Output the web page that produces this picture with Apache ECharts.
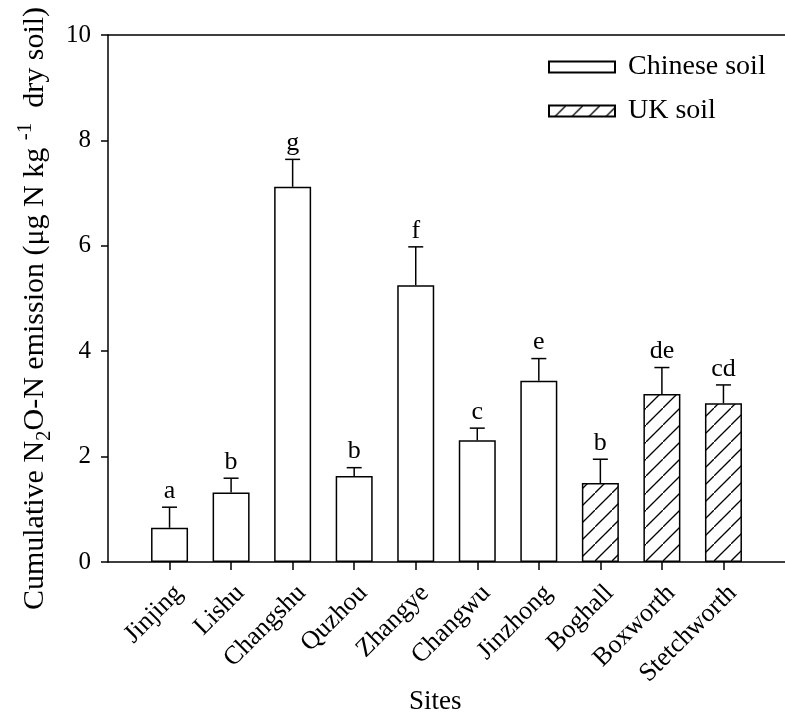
<!DOCTYPE html>
<html lang="en" style="height: 100%">
<head>
  <meta charset="utf-8">
</head>
<body style="height: 100%; margin: 0">
  <div id="container" style="width: 785px; height: 720px"></div>
  <script type="text/javascript" src="https://cdn.jsdelivr.net/npm/echarts@6/dist/echarts.min.js"></script>
  <script type="text/javascript">
    // data
    var sites = ['Jinjing', 'Lishu', 'Changshu', 'Quzhou', 'Zhangye', 'Changwu', 'Jinzhong', 'Boghall', 'Boxworth', 'Stetchworth'];
    var soil = ['Chinese soil', 'Chinese soil', 'Chinese soil', 'Chinese soil', 'Chinese soil', 'Chinese soil', 'Chinese soil', 'UK soil', 'UK soil', 'UK soil'];
    var means = [0.65, 1.32, 7.12, 1.63, 5.25, 2.31, 3.44, 1.50, 3.19, 3.01];
    var errs = [0.39, 0.27, 0.52, 0.16, 0.73, 0.23, 0.42, 0.45, 0.50, 0.35];
    var letters = ['a', 'b', 'g', 'b', 'f', 'c', 'e', 'b', 'de', 'cd'];

    var font = 'Liberation Serif';

    // diagonal hatch tile for UK soil
    var tile = document.createElement('canvas');
    var s = 17;
    tile.width = s;
    tile.height = s;
    var ctx = tile.getContext('2d');
    ctx.strokeStyle = '#000';
    ctx.lineWidth = 1.3;
    ctx.beginPath();
    ctx.moveTo(-2, s + 2);
    ctx.lineTo(s + 2, -2);
    ctx.stroke();

    var dom = document.getElementById('container');
    var myChart = echarts.init(dom, null, { renderer: 'canvas' });

    var positions = sites.map(function (d, i) { return i + 1; });

    function barData(name) {
      return sites.map(function (d, i) {
        return soil[i] === name ? [i + 1, means[i]] : [i + 1, '-'];
      });
    }

    var option = {
      animation: false,
      backgroundColor: '#fff',
      textStyle: { fontFamily: font, color: '#000' },
      grid: { left: 108, top: 35, right: -67, bottom: 158 },
      legend: {
        orient: 'vertical',
        left: 543,
        top: 48,
        icon: 'rect',
        itemWidth: 66,
        itemHeight: 11,
        itemGap: 16,
        textStyle: { fontFamily: font, fontSize: 28, color: '#000', padding: [0, 0, 0, 8] },
        data: ['Chinese soil', 'UK soil']
      },
      graphic: [{
        type: 'text',
        left: 409,
        top: 688,
        style: { text: 'Sites', fontFamily: font, fontSize: 27, fill: '#000' }
      }],
      xAxis: [{
        type: 'value',
        min: 0,
        max: 11,
        splitLine: { show: false },
        axisLine: { lineStyle: { color: '#000', width: 1.5 } },
        axisTick: { customValues: positions, length: 8, lineStyle: { color: '#000', width: 1.5 } },
        axisLabel: {
          customValues: positions,
          rotate: 45,
          margin: 18,
          verticalAlign: 'top',
          fontFamily: font,
          fontSize: 26,
          color: '#000',
          formatter: function (v) { return sites[v - 1]; }
        }
      }, {
        type: 'value',
        position: 'top',
        min: 0,
        max: 11,
        splitLine: { show: false },
        axisLine: { show: true, lineStyle: { color: '#000', width: 1.5 } },
        axisTick: { show: false },
        axisLabel: { show: false }
      }],
      yAxis: {
        type: 'value',
        min: 0,
        max: 10,
        interval: 2,
        splitLine: { show: false },
        axisLine: { show: true, lineStyle: { color: '#000', width: 1.5 } },
        axisTick: { show: true, length: 7, lineStyle: { color: '#000', width: 1.5 } },
        axisLabel: { fontFamily: font, fontSize: 25, color: '#000', margin: 17 },
        nameLocation: 'middle',
        nameGap: 45,
        name: '{t|Cumulative N}{sub|2}{t|O-N emission (μg N kg }{sup|-1}{t|  dry soil)}',
        nameTextStyle: {
          padding: [0, 20, 0, 0],
          rich: {
            t: { fontFamily: font, fontSize: 30, color: '#000', lineHeight: 40, verticalAlign: 'middle' },
            sub: { fontFamily: font, fontSize: 21, color: '#000', lineHeight: 40, verticalAlign: 'bottom' },
            sup: { fontFamily: font, fontSize: 21, color: '#000', lineHeight: 40, verticalAlign: 'top' }
          }
        }
      },
      series: [{
        name: 'Chinese soil',
        type: 'bar',
        barWidth: 37,
        barGap: '-100%',
        itemStyle: { color: '#fff', borderColor: '#000', borderWidth: 1.5 },
        data: barData('Chinese soil')
      }, {
        name: 'UK soil',
        type: 'bar',
        barWidth: 37,
        barGap: '-100%',
        itemStyle: { color: { image: tile, repeat: 'repeat' }, borderColor: '#000', borderWidth: 1.5 },
        data: barData('UK soil')
      }, {
        name: 'err',
        type: 'custom',
        z: 5,
        data: sites.map(function (d, i) { return [i + 1, means[i], errs[i]]; }),
        renderItem: function (params, api) {
          var x = api.value(0);
          var m = api.value(1);
          var e = api.value(2);
          var p0 = api.coord([x, m]);
          var p1 = api.coord([x, m + e]);
          var st = { stroke: '#000', lineWidth: 1.5 };
          return {
            type: 'group',
            children: [
              { type: 'line', shape: { x1: p0[0], y1: p0[1], x2: p1[0], y2: p1[1] }, style: st },
              { type: 'line', shape: { x1: p1[0] - 7.5, y1: p1[1], x2: p1[0] + 7.5, y2: p1[1] }, style: st },
              {
                type: 'text',
                x: p1[0],
                y: p1[1] - 3,
                style: {
                  text: letters[params.dataIndex],
                  fontFamily: font,
                  fontSize: 26,
                  fill: '#000',
                  align: 'center',
                  verticalAlign: 'bottom'
                }
              }
            ]
          };
        }
      }]
    };

    myChart.setOption(option);
    window.addEventListener('resize', myChart.resize);
  </script>
</body>
</html>
